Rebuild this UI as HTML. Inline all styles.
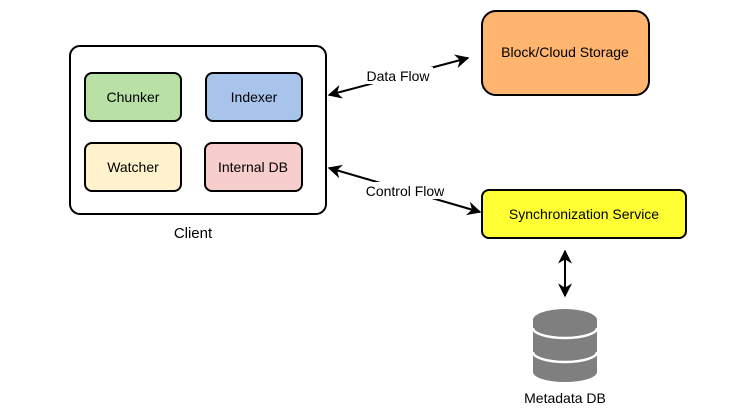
<!DOCTYPE html>
<html><head><style>
body{margin:0;background:#fff;}
svg text{font-family:"Liberation Sans",Arial,sans-serif;}
</style></head><body>
<svg width="729" height="412" viewBox="0 0 729 412" xmlns="http://www.w3.org/2000/svg">
<defs>
<marker id="a" viewBox="0 0 10 10" refX="9" refY="5" markerWidth="7" markerHeight="7" orient="auto-start-reverse" markerUnits="strokeWidth">
<path d="M0,0 L10,5 L0,10 L3,5 Z" fill="#000"/></marker>
</defs>
<rect x="70" y="46" width="256" height="168" rx="10" fill="#fff" stroke="#000" stroke-width="2"/>
<rect x="85" y="73" width="96" height="48" rx="7" fill="#b9e0a5" stroke="#000" stroke-width="2"/>
<rect x="206" y="73" width="96" height="48" rx="7" fill="#a9c4eb" stroke="#000" stroke-width="2"/>
<rect x="85" y="143" width="96" height="48" rx="7" fill="#fff2cc" stroke="#000" stroke-width="2"/>
<rect x="205" y="143" width="97" height="48" rx="7" fill="#f8cecc" stroke="#000" stroke-width="2"/>
<g font-size="14" text-anchor="middle" fill="#000">
<text x="133" y="102">Chunker</text>
<text x="254" y="102">Indexer</text>
<text x="133" y="172">Watcher</text>
<text x="253" y="172">Internal DB</text>
<text x="193" y="238" font-size="15">Client</text>
</g>
<rect x="482" y="11" width="167" height="84" rx="14" fill="#ffb570" stroke="#000" stroke-width="2"/>
<text x="565" y="57" font-size="14" text-anchor="middle">Block/Cloud Storage</text>
<rect x="482" y="190" width="204" height="48" rx="7" fill="#ffff33" stroke="#000" stroke-width="2"/>
<text x="584" y="219" font-size="14" text-anchor="middle">Synchronization Service</text>
<line x1="329" y1="95" x2="468" y2="58" stroke="#000" stroke-width="2" marker-start="url(#a)" marker-end="url(#a)"/>
<line x1="329" y1="168" x2="480" y2="212" stroke="#000" stroke-width="2" marker-start="url(#a)" marker-end="url(#a)"/>
<line x1="565" y1="251" x2="565" y2="296" stroke="#000" stroke-width="2" marker-start="url(#a)" marker-end="url(#a)"/>
<rect x="363" y="67" width="70" height="17" fill="#fff"/>
<text x="398" y="81" font-size="14" text-anchor="middle">Data Flow</text>
<rect x="361" y="182" width="88" height="17" fill="#fff"/>
<text x="405" y="196" font-size="14" text-anchor="middle">Control Flow</text>
<g fill="#7f7f7f">
<path d="M533,320 L533,372 A32,10 0 0 0 597,372 L597,320 Z"/>
<ellipse cx="565" cy="320" rx="32" ry="11"/>
</g>
<g fill="none" stroke="#fff" stroke-width="2.5">
<path d="M533,328 A32,10 0 0 0 597,328"/>
<path d="M533,352 A32,10 0 0 0 597,352"/>
</g>
<text x="565" y="403" font-size="14" text-anchor="middle">Metadata DB</text>
</svg>
</body></html>
